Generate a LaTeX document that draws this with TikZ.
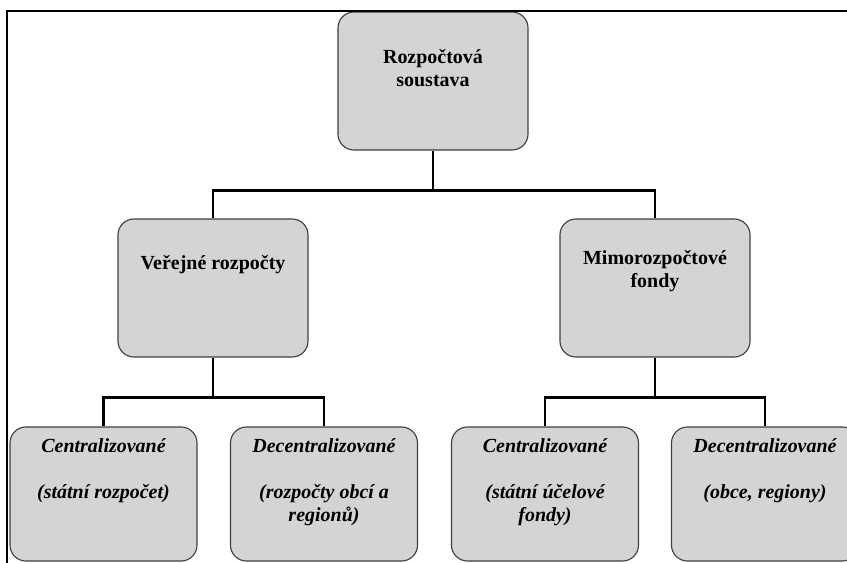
\documentclass[tikz,border=0pt]{standalone}
\usepackage{fontspec}
\setmainfont{Liberation Serif}

\begin{document}
\begin{tikzpicture}[x=0.025cm,y=-0.025cm,
    box/.style={draw=black!75,line width=0.8pt,fill=black!17,rounded corners=0.4cm,minimum width=4.75cm,minimum height=3.45cm},
    leaf/.style={box,minimum width=4.675cm,minimum height=3.35cm},
    head/.style={align=center,font=\fontsize{14.2}{16.4}\selectfont\bfseries},
    sub/.style={align=center,font=\fontsize{14.2}{16.4}\selectfont\bfseries\itshape},
    conn/.style={line width=1.6pt}]
        \useasboundingbox (0,0) rectangle (847,563);
        % boxes
        \node[box](rs) at(433,81) {};
        \node[box](vr) at(213,288) {};
        \node[box](mf) at(655,288) {};
        \node[leaf](vrc) at(103.5,494) {};
        \node[leaf](vrd) at(324,494) {};
        \node[leaf](mfc) at(545,494) {};
        \node[leaf](mfd) at(765,494) {};
        % texts
        \node[head](rstxt) at(433,68.5) {Rozpočtová\\soustava};
        \node[head](vrtxt) at(213,265) {Veřejné rozpočty};
        \node[head](mftxt) at(655,271.5) {Mimorozpočtové\\fondy};
        \node[sub](vrctxt) at(103.5,471) {Centralizované\\[16.4pt](státní rozpočet)};
        \node[sub](vrdtxt) at(324,482.5) {Decentralizované\\[16.4pt](rozpočty obcí a\\regionů)};
        \node[sub](mfctxt) at(545,482.5) {Centralizované\\[16.4pt](státní účelové\\fondy)};
        \node[sub](mfdtxt) at(765,471) {Decentralizované\\[16.4pt](obce, regiony)};
        % connectors
        \draw[conn](rs.south)--++(0,40)coordinate(j1)-|(vr.north);
        \draw[conn](j1)-|(mf.north);
        \draw[conn](vr.south)--++(0,40)coordinate(j2)-|(vrc.north);
        \draw[conn](j2)-|(vrd.north);
        \draw[conn](mf.south)--++(0,40)coordinate(j3)-|(mfc.north);
        \draw[conn](j3)-|(mfd.north);
        % frame
        \draw[line width=1.2pt](847,11)--(7,11)--(7,563);
    \end{tikzpicture}
\end{document}
